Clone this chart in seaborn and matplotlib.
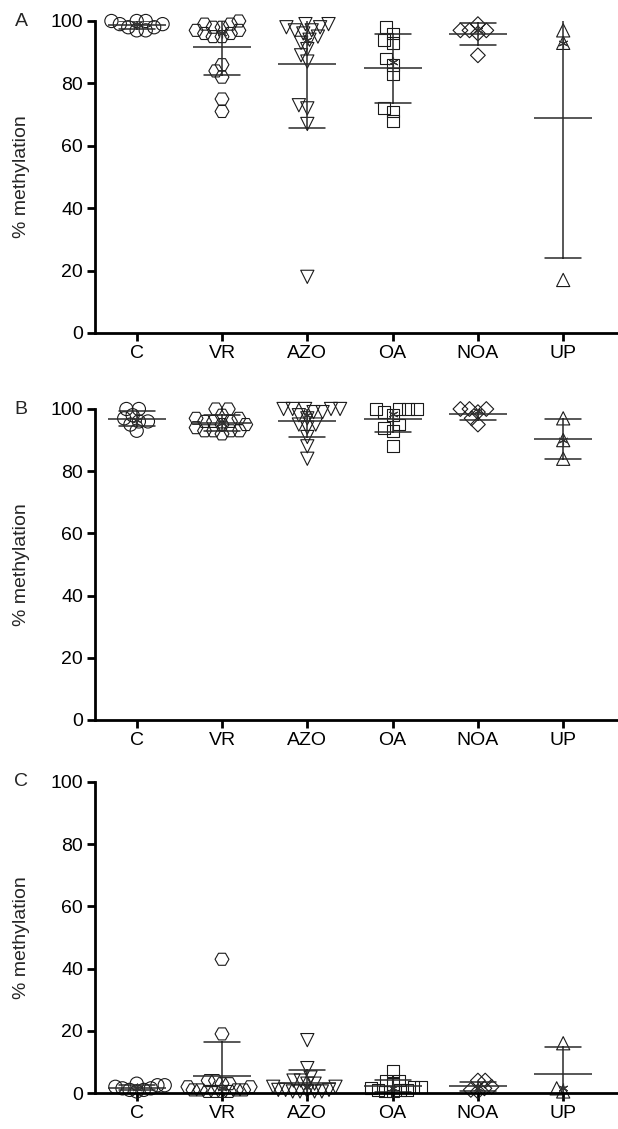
import numpy as np
import pandas as pd
import matplotlib
matplotlib.use("Agg")
import matplotlib.pyplot as plt
import seaborn as sns

# ---------------- data ----------------
categories = ["C", "VR", "AZO", "OA", "NOA", "UP"]
markers = ["o", "H", "v", "s", "D", "^"]
marker_sizes = [9.5, 10.0, 9.5, 8.5, 7.5, 9.5]
y_ticks = [0, 20, 40, 60, 80, 100]
y_label = "% methylation"
panel_letters = ["A", "B", "C"]

# Panel A
a_C = [100, 100, 100, 99, 99, 98, 98, 97, 97]
a_VR = [100, 99, 99, 98, 98, 97, 97, 96, 96, 95, 95, 84, 82, 86, 75, 71]
a_AZO = [99, 99, 98, 98, 97, 97, 96, 95, 94, 93, 89, 91, 87, 72, 73, 67, 18]
a_OA = [98, 96, 94, 93, 88, 86, 83, 72, 71, 68]
a_NOA = [97, 97, 96, 99, 89, 97]
a_UP = [97, 93, 17]

# Panel B
b_C = [100, 100, 98, 97, 96, 96, 95, 93]
b_VR = [100, 100, 98, 97, 97, 96, 96, 96, 95, 95, 94, 93, 93, 93, 93, 92]
b_AZO = [100, 100, 100, 100, 100, 99, 99, 98, 97, 95, 95, 94, 91, 88, 84]
b_OA = [100, 100, 100, 100, 99, 98, 95, 94, 93, 88]
b_NOA = [100, 100, 99, 100, 97, 95]
b_UP = [97, 90, 84]

# Panel C
c_C = [3, 2.5, 2.5, 2, 1.5, 1.5, 1, 1, 0.5]
c_VR = [43, 19, 4, 4, 3, 3, 2, 2, 1, 1, 1, 1, 0.5, 0.5, 0.5, 0.5]
c_AZO = [17, 8, 5, 4, 4, 3, 3, 2, 2, 1, 1, 1, 0.5, 0.5, 0.5, 0.5, 0.5]
c_OA = [7, 4, 4, 3, 2, 2, 1.5, 1, 1, 0.5, 0.5, 1]
c_NOA = [4, 4, 2, 1.5, 1, 0.5]
c_UP = [16, 1.5, 0.5]

panels = [
    [a_C, a_VR, a_AZO, a_OA, a_NOA, a_UP],
    [b_C, b_VR, b_AZO, b_OA, b_NOA, b_UP],
    [c_C, c_VR, c_AZO, c_OA, c_NOA, c_UP],
]

# ---------------- style ----------------
sns.set_style("ticks")
plt.rcParams["font.family"] = ["Liberation Sans", "DejaVu Sans"]

W, H = 618, 1129
fig = plt.figure(figsize=(W / 100, H / 100), dpi=100)

left_px, right_px = 95, 618
# (top_px, bottom_px) of each axes (y=100 and y=0)
ax_rows = [(21, 333), (409, 720), (782, 1093)]
swarm_place = [6.2, 6.2, 5.0]
cat0_px, spacing_px = 136.7, 85.3

line_col = "#2a2a2a"
axes = []
for (top_px, bot_px), groups, letter, place in zip(ax_rows, panels,
                                                   panel_letters, swarm_place):
    ax = fig.add_axes([left_px / W, 1 - bot_px / H,
                       (right_px - left_px) / W, (bot_px - top_px) / H])
    axes.append(ax)
    x0 = -(cat0_px - left_px) / spacing_px
    x1 = 5 + (right_px - (cat0_px + 5 * spacing_px)) / spacing_px
    ax.set_xlim(x0, x1)
    ax.set_ylim(0, 100)

    rows = []
    for cat, vals in zip(categories, groups):
        for v in vals:
            rows.append((cat, v))
    df = pd.DataFrame(rows, columns=["group", "value"])

    for cat, mk in zip(categories, markers):
        sub = df[df["group"] == cat]
        sns.swarmplot(data=sub, x="group", y="value", order=categories,
                      marker=mk, size=place, color="black", ax=ax,
                      clip_on=False, zorder=1)

    sns.pointplot(data=df, x="group", y="value", order=categories,
                  estimator="mean", errorbar="sd", capsize=0.42,
                  color=line_col, linestyle="none", marker="_",
                  markersize=42, markeredgewidth=1.1,
                  err_kws={"linewidth": 1.1}, ax=ax, zorder=2)
    sns.pointplot(data=df, x="group", y="value", order=categories,
                  estimator="median", errorbar=None,
                  color="#333333", linestyle="none", marker=(6, 2, 0),
                  markersize=7, markeredgewidth=0.8, ax=ax, zorder=3)

    ax.set_xlim(x0, x1)
    ax.set_ylim(0, 100)
    ax.set_yticks(y_ticks)
    ax.set_xlabel("")
    ax.set_ylabel("")
    sns.despine(ax=ax)
    for s in ["left", "bottom"]:
        ax.spines[s].set_linewidth(2.0)
        ax.spines[s].set_color("black")
        ax.spines[s].set_zorder(4)
    ax.tick_params(direction="out", length=5.5, width=2.0, labelsize=14,
                   pad=3, color="black", labelcolor="black")

    yc = 1 - ((top_px + bot_px) / 2) / H
    fig.text(22 / W, yc, y_label, rotation=90, ha="center", va="center",
             fontsize=14)
    fig.text(21 / W, 1 - top_px / H, letter, ha="center", va="center",
             fontsize=14)

# compute swarm layout once, then freeze it and enlarge / open the markers
fig.canvas.draw()
for ax in axes:
    swarm_cols = [c for c in ax.collections if "draw" in c.__dict__]
    for coll, ms in zip(swarm_cols, marker_sizes):
        del coll.draw
        coll.set_sizes([ms ** 2])
        coll.set_facecolor("none")
        coll.set_edgecolor("#1a1a1a")
        coll.set_linewidth(0.8)

fig.savefig("out.png", dpi=100)
